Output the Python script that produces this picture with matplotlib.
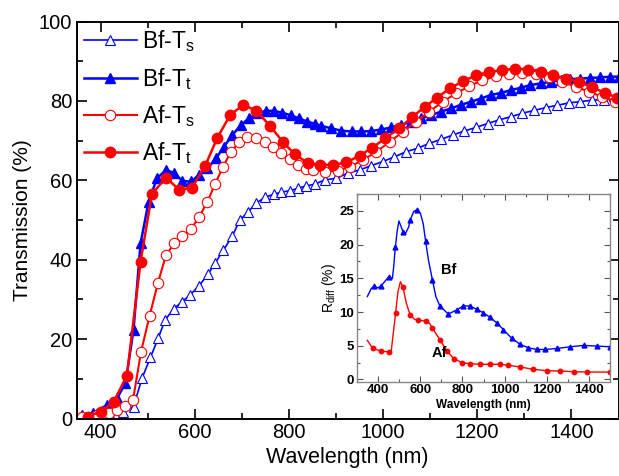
import matplotlib
matplotlib.use("Agg")
import matplotlib.pyplot as plt
from matplotlib.ticker import MultipleLocator

plt.rcParams['font.family'] = ['Liberation Sans', 'DejaVu Sans']
plt.rcParams['mathtext.fontset'] = 'custom'
plt.rcParams['mathtext.rm'] = 'Liberation Sans'

# main panel: transmission spectra
bf_ts_wl = [357, 380, 400, 421, 447, 470, 488, 506, 523, 537, 555, 573, 590, 609, 628, 643, 661, 680,
            696, 714, 730, 749, 768, 784, 802, 820, 837, 855, 876, 901, 925, 950, 975, 999, 1024, 1049,
            1074, 1098, 1123, 1148, 1172, 1197, 1222, 1246, 1271, 1296, 1321, 1345, 1370, 1395, 1419,
            1444, 1469, 1494]
bf_ts = [0.2, 0.3, 0.5, 0.9, 1.7, 3.0, 10.1, 15.4, 20.4, 24.8, 27.6, 29.4, 31.1, 33.4, 36.3, 39.1, 42.4,
         46.0, 50.0, 52.1, 54.2, 55.7, 56.5, 57.0, 57.4, 58.0, 58.6, 59.0, 60.1, 60.5, 61.8, 62.6, 63.7,
         64.7, 65.9, 67.2, 68.1, 69.3, 70.3, 71.4, 72.4, 73.3, 74.3, 75.2, 76.0, 76.9, 77.6, 78.3, 78.9,
         79.5, 79.8, 80.2, 80.3, 80.5]

bf_tt_wl = [361, 385, 414, 435, 453, 470, 485, 502, 520, 539, 557, 574, 592, 609, 627, 645, 662, 680,
            698, 715, 733, 751, 768, 786, 804, 821, 839, 856, 869, 890, 911, 933, 954, 975, 996, 1017,
            1038, 1060, 1081, 1102, 1123, 1144, 1165, 1187, 1208, 1229, 1250, 1271, 1292, 1313, 1335,
            1356, 1377, 1398, 1419, 1440, 1461, 1482, 1500]
bf_tt = [0.9, 1.5, 3.4, 5.1, 8.9, 22.3, 44.1, 54.6, 60.5, 62.6, 61.8, 59.8, 59.7, 61.3, 63.0, 65.5, 68.5,
         71.4, 73.9, 75.6, 76.9, 77.5, 77.5, 77.0, 76.4, 75.6, 74.8, 74.2, 73.7, 73.1, 72.5, 72.3, 72.3,
         72.4, 72.8, 73.3, 73.9, 74.8, 75.6, 76.4, 77.3, 78.1, 79.0, 79.8, 80.6, 81.5, 82.0, 82.7, 83.3,
         84.0, 84.4, 84.8, 85.2, 85.5, 85.6, 85.8, 85.9, 86.1, 86.1]

af_ts_wl = [361, 393, 417, 435, 453, 469, 486, 504, 522, 539, 557, 574, 592, 609, 627, 643, 660, 677,
            695, 712, 730, 749, 767, 784, 802, 820, 837, 851, 876, 904, 929, 957, 986, 1014, 1042, 1070,
            1098, 1127, 1155, 1183, 1211, 1240, 1268, 1296, 1324, 1352, 1380, 1409, 1437, 1465, 1493]
af_ts = [0.5, 0.9, 1.3, 2.1, 3.1, 4.7, 16.8, 25.8, 34.2, 41.2, 44.1, 46.0, 47.7, 50.7, 54.6, 59.0, 63.4,
         67.2, 69.7, 71.0, 70.7, 69.7, 68.5, 67.0, 65.3, 63.9, 62.8, 62.6, 62.2, 62.4, 63.4, 65.1, 67.2,
         69.7, 72.2, 74.8, 77.3, 79.8, 81.9, 83.7, 85.2, 86.2, 86.9, 87.1, 86.7, 85.9, 84.8, 83.6, 82.3,
         81.1, 79.8]

af_tt_wl = [373, 400, 428, 456, 485, 509, 539, 567, 594, 622, 648, 675, 703, 731, 760, 787, 812, 841,
            867, 894, 922, 950, 977, 1005, 1034, 1062, 1088, 1115, 1142, 1169, 1197, 1224, 1252, 1280,
            1307, 1335, 1361, 1389, 1416, 1444, 1472, 1497]
af_tt = [0.5, 1.7, 4.2, 10.8, 39.5, 56.5, 60.7, 57.6, 58.1, 63.6, 70.7, 76.4, 79.0, 77.5, 73.7, 69.7,
         66.6, 64.3, 63.9, 63.9, 64.5, 66.2, 68.2, 70.6, 73.1, 75.9, 78.5, 80.8, 83.2, 84.9, 86.4, 87.3,
         87.7, 88.1, 87.9, 87.3, 86.4, 85.6, 84.8, 83.4, 82.0, 80.8]

# inset: diffuse reflectance
bf_r_wl = [349, 368, 380, 399, 412, 431, 450, 468, 474, 482, 491, 499, 510, 518, 531, 545, 553, 569, 586,
           601, 614, 625, 639, 658, 674, 693, 733, 772, 804, 836, 868, 899, 931, 963, 994, 1034, 1074,
           1113, 1153, 1193, 1249, 1312, 1375, 1439, 1499]
bf_r = [12.3, 13.5, 13.8, 13.6, 13.8, 14.5, 15.2, 15.0, 16.7, 19.7, 22.1, 23.5, 22.6, 21.9, 21.7, 22.6,
        23.7, 24.9, 25.2, 24.6, 23.1, 20.6, 17.7, 14.7, 12.3, 10.9, 9.7, 10.3, 10.9, 10.9, 10.4, 9.9, 9.2,
        8.4, 7.4, 6.1, 5.2, 4.7, 4.45, 4.45, 4.6, 4.85, 5.05, 4.95, 4.85]
bf_r_marks = [2, 4, 6, 9, 13, 16, 18, 21, 23, 25] + list(range(26, 45))

af_r_wl = [349, 375, 415, 450, 463, 470, 483, 494, 506, 518, 534, 553, 574, 590, 625, 645, 656, 693, 725,
           760, 796, 836, 883, 931, 979, 1018, 1074, 1137, 1201, 1264, 1328, 1391, 1499]
af_r = [5.8, 4.6, 4.2, 4.1, 4.35, 6.3, 9.8, 13.0, 14.5, 13.7, 11.3, 9.5, 8.9, 8.8, 8.65, 8.3, 7.7, 5.9,
        4.25, 3.1, 2.5, 2.35, 2.25, 2.25, 2.25, 2.1, 1.85, 1.5, 1.3, 1.25, 1.15, 1.1, 1.1]
af_r_marks = [1, 2, 3, 6, 9, 11, 13, 14, 16, 17] + list(range(18, 33))

fig = plt.figure(figsize=(6.19, 4.76), dpi=100)
ax = fig.add_axes([77 / 619, 57.5 / 476, 541.5 / 619, 397 / 476])

ax.plot(bf_ts_wl, bf_ts, '-', color='blue', lw=1.2, marker='^', ms=7, mfc='white', mec='blue', mew=0.8,
        label='Bf-T$_\\mathregular{s}$')
ax.plot(bf_tt_wl, bf_tt, '-', color='blue', lw=1.8, marker='^', ms=7, mfc='blue', mec='blue',
        label='Bf-T$_\\mathregular{t}$')
ax.plot(af_ts_wl, af_ts, '-', color='red', lw=1.5, marker='o', ms=7.5, mfc='white', mec='red', mew=0.8,
        label='Af-T$_\\mathregular{s}$')
ax.plot(af_tt_wl, af_tt, '-', color='red', lw=1.8, marker='o', ms=7.5, mfc='red', mec='red',
        label='Af-T$_\\mathregular{t}$')

ax.set_xlim(350, 1500)
ax.set_ylim(0, 100)
ax.xaxis.set_major_locator(MultipleLocator(200))
ax.xaxis.set_minor_locator(MultipleLocator(100))
ax.yaxis.set_major_locator(MultipleLocator(20))
ax.yaxis.set_minor_locator(MultipleLocator(10))
ax.tick_params(which='both', direction='in', top=True, right=True, width=1.2, labelsize=14.5)
ax.tick_params(which='major', length=7)
ax.tick_params(which='minor', length=4)
for s in ax.spines.values():
    s.set_linewidth(1.4)
ax.set_xlabel('Wavelength (nm)', fontsize=15.5, labelpad=3)
ax.set_ylabel('Transmission (%)', fontsize=15, labelpad=5)

leg = ax.legend(loc='upper left', frameon=False, fontsize=16.5, handlelength=2.3, handletextpad=0.25,
                labelspacing=0.5, borderaxespad=0.2, borderpad=0.1)

# inset
ins = fig.add_axes([357 / 619, 94.5 / 476, 253 / 619, 187.5 / 476])
ins.plot(bf_r_wl, bf_r, '-', color='blue', lw=1.0, marker='^', ms=3.5, markevery=bf_r_marks)
ins.plot(af_r_wl, af_r, '-', color='red', lw=1.0, marker='o', ms=3.2, markevery=af_r_marks)
ins.set_xlim(300, 1500)
ins.set_ylim(-0.3, 27.5)
ins.xaxis.set_major_locator(MultipleLocator(200))
ins.xaxis.set_minor_locator(MultipleLocator(100))
ins.yaxis.set_major_locator(MultipleLocator(5))
ins.yaxis.set_minor_locator(MultipleLocator(2.5))
ins.tick_params(which='both', direction='in', top=True, right=True, width=0.8, labelsize=9.5, pad=2,
                color='#555555')
ins.tick_params(which='major', length=4)
ins.tick_params(which='minor', length=2)
for lab in ins.get_xticklabels() + ins.get_yticklabels():
    lab.set_fontweight('bold')
for s in ins.spines.values():
    s.set_color('#888888')
    s.set_linewidth(1.0)
ins.set_xlabel('Wavelength (nm)', fontsize=8.5, fontweight='bold', labelpad=2)
ins.set_ylabel('R$_\\mathregular{diff}$ (%)', fontsize=10, labelpad=1)
ins.text(700, 16.2, 'Bf', fontsize=10.5, fontweight='bold', va='center')
ins.text(653, 3.9, 'Af', fontsize=10.5, fontweight='bold', va='center')

fig.savefig('out.png', dpi=100)
